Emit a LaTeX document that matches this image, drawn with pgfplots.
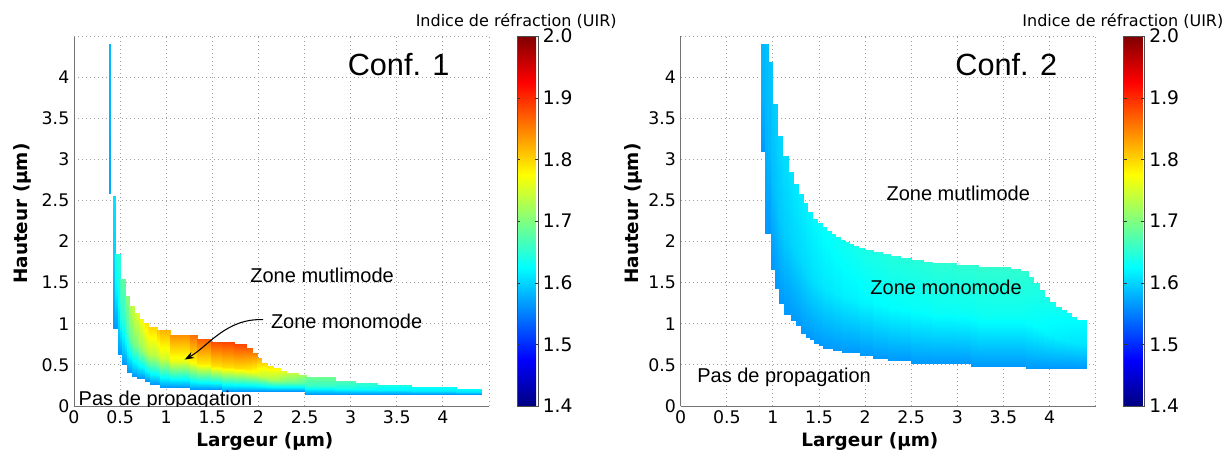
\documentclass[border=0pt]{standalone}
\usepackage{fontspec}
\setmainfont{DejaVu Sans}
\newfontfamily\arialfont{Liberation Sans}
\usepackage{pgfplots}
\usepackage{pgfplotstable}
\pgfplotsset{compat=1.18}
\usetikzlibrary{arrows.meta}

\pgfplotsset{
  /pgf/number format/assume math mode=true,
  mypanel/.style={
    scale only axis, width=311.25pt, height=277.5pt,
    xmin=0, xmax=4.5, ymin=0, ymax=4.5,
    axis x line*=bottom, axis y line*=left,
    axis line style={black!55, line width=0.75pt, -},
    xtick={0,0.5,1,1.5,2,2.5,3,3.5,4},
    ytick={0,0.5,1,1.5,2,2.5,3,3.5,4},
    extra x ticks={4.5}, extra y ticks={4.5},
    extra x tick labels={}, extra y tick labels={},
    grid=major,
    major grid style={gray!75, dash pattern=on 0.8pt off 2.2pt, line width=0.6pt},
    major tick length=0pt,
    tick label style={font=\fontsize{13}{15}\selectfont},
    label style={font=\bfseries\fontsize{13.8}{16}\selectfont},
    colormap/jet, point meta min=1.4, point meta max=2.0,
    colorbar,
    colorbar style={
      at={(parent axis.south east)}, anchor=south west,
      xshift=12.5pt, yshift=0pt,
      scale only axis, width=15.75pt, height=277.5pt,
      ytick={1.4,1.5,1.6,1.7,1.8,1.9,2.0},
      yticklabel style={font=\fontsize{14}{16}\selectfont,
        /pgf/number format/.cd, fixed, fixed zerofill, precision=1},
      axis line style={black!70},
      major tick length=2.5pt, tick align=inside,
      tick style={black!80},
      title={Indice de réfraction (UIR)},
      title style={font=\fontsize{12}{14}\selectfont, at={(0.5,1)}, anchor=base, xshift=-8.5pt, yshift=1.5pt},
    },
  },
  region/.style={surf, shader=interp, mesh/cols=3, point meta=explicit},
}

\begin{document}
% Conf. 1 : thin isolated column
\pgfplotstableread[row sep=\\]{
x y c\\
0.375 2.58 1.575\\ 0.375 3.49 1.58\\ 0.375 4.40 1.585\\
0.40 2.58 1.575\\ 0.40 3.49 1.58\\ 0.40 4.40 1.585\\
}\confonethin
% Conf. 1 : main monomode region (each column: left edge then right edge, bottom/mid/top)
\pgfplotstableread[row sep=\\]{
x y c\\
0.42 0.945 1.565\\ 0.42 1.748 1.597\\ 0.42 2.55 1.61\\ 0.445 0.945 1.565\\ 0.445 1.748 1.597\\ 0.445 2.55 1.61\\
0.445 0.945 1.565\\ 0.445 1.398 1.619\\ 0.445 1.85 1.64\\ 0.475 0.945 1.565\\ 0.475 1.398 1.619\\ 0.475 1.85 1.64\\
0.475 0.63 1.565\\ 0.475 1.24 1.626\\ 0.475 1.85 1.65\\ 0.50 0.63 1.565\\ 0.50 1.24 1.626\\ 0.50 1.85 1.65\\
0.50 0.63 1.565\\ 0.50 1.085 1.641\\ 0.50 1.54 1.67\\ 0.525 0.63 1.565\\ 0.525 1.085 1.641\\ 0.525 1.54 1.67\\
0.525 0.507 1.565\\ 0.525 1.024 1.648\\ 0.525 1.54 1.68\\ 0.55 0.507 1.565\\ 0.55 1.024 1.648\\ 0.55 1.54 1.68\\
0.55 0.507 1.565\\ 0.55 0.924 1.662\\ 0.55 1.34 1.70\\ 0.575 0.507 1.565\\ 0.575 0.924 1.662\\ 0.575 1.34 1.70\\
0.575 0.418 1.565\\ 0.575 0.879 1.669\\ 0.575 1.34 1.71\\ 0.60 0.418 1.565\\ 0.60 0.879 1.669\\ 0.60 1.34 1.71\\
0.60 0.418 1.565\\ 0.60 0.819 1.684\\ 0.60 1.22 1.73\\ 0.625 0.418 1.565\\ 0.625 0.819 1.684\\ 0.625 1.22 1.73\\
0.625 0.369 1.565\\ 0.625 0.795 1.691\\ 0.625 1.22 1.74\\ 0.65 0.369 1.565\\ 0.65 0.795 1.691\\ 0.65 1.22 1.74\\
0.65 0.369 1.565\\ 0.65 0.752 1.698\\ 0.65 1.135 1.75\\ 0.68 0.369 1.565\\ 0.68 0.752 1.698\\ 0.68 1.135 1.75\\
0.68 0.337 1.565\\ 0.68 0.736 1.705\\ 0.68 1.135 1.76\\ 0.705 0.337 1.565\\ 0.705 0.736 1.705\\ 0.705 1.135 1.76\\
0.705 0.337 1.565\\ 0.705 0.699 1.713\\ 0.705 1.06 1.77\\ 0.75 0.337 1.565\\ 0.75 0.699 1.713\\ 0.75 1.06 1.77\\
0.75 0.337 1.565\\ 0.75 0.671 1.720\\ 0.75 1.005 1.78\\ 0.77 0.337 1.565\\ 0.77 0.671 1.720\\ 0.77 1.005 1.78\\
0.77 0.308 1.565\\ 0.77 0.657 1.727\\ 0.77 1.005 1.79\\ 0.80 0.308 1.565\\ 0.80 0.657 1.727\\ 0.80 1.005 1.79\\
0.80 0.308 1.565\\ 0.80 0.637 1.731\\ 0.80 0.965 1.795\\ 0.825 0.308 1.565\\ 0.825 0.637 1.731\\ 0.825 0.965 1.795\\
0.825 0.268 1.565\\ 0.825 0.617 1.734\\ 0.825 0.965 1.80\\ 0.90 0.268 1.565\\ 0.90 0.617 1.734\\ 0.90 0.965 1.80\\
0.90 0.268 1.565\\ 0.90 0.597 1.741\\ 0.90 0.925 1.81\\ 0.93 0.268 1.565\\ 0.93 0.597 1.741\\ 0.93 0.925 1.81\\
0.93 0.235 1.565\\ 0.93 0.58 1.749\\ 0.93 0.925 1.82\\ 1.04 0.235 1.565\\ 1.04 0.58 1.749\\ 1.04 0.925 1.82\\
1.04 0.235 1.565\\ 1.04 0.55 1.763\\ 1.04 0.864 1.84\\ 1.26 0.235 1.565\\ 1.26 0.55 1.763\\ 1.26 0.864 1.84\\
1.26 0.203 1.565\\ 1.26 0.534 1.777\\ 1.26 0.864 1.86\\ 1.33 0.203 1.565\\ 1.33 0.534 1.777\\ 1.33 0.864 1.86\\
1.33 0.203 1.565\\ 1.33 0.507 1.785\\ 1.33 0.81 1.87\\ 1.49 0.203 1.565\\ 1.49 0.507 1.785\\ 1.49 0.81 1.87\\
1.49 0.203 1.565\\ 1.49 0.492 1.792\\ 1.49 0.78 1.88\\ 1.60 0.203 1.565\\ 1.60 0.492 1.792\\ 1.60 0.78 1.88\\
1.60 0.178 1.565\\ 1.60 0.479 1.795\\ 1.60 0.78 1.885\\ 1.73 0.178 1.565\\ 1.73 0.479 1.795\\ 1.73 0.78 1.885\\
1.73 0.178 1.565\\ 1.73 0.467 1.795\\ 1.73 0.755 1.885\\ 1.87 0.178 1.565\\ 1.87 0.467 1.795\\ 1.87 0.755 1.885\\
1.87 0.178 1.565\\ 1.87 0.439 1.785\\ 1.87 0.70 1.87\\ 1.93 0.178 1.565\\ 1.93 0.439 1.785\\ 1.93 0.70 1.87\\
1.93 0.178 1.565\\ 1.93 0.409 1.770\\ 1.93 0.64 1.85\\ 1.98 0.178 1.565\\ 1.98 0.409 1.770\\ 1.98 0.64 1.85\\
1.98 0.178 1.565\\ 1.98 0.379 1.749\\ 1.98 0.58 1.82\\ 2.03 0.178 1.565\\ 2.03 0.379 1.749\\ 2.03 0.58 1.82\\
2.03 0.178 1.565\\ 2.03 0.353 1.734\\ 2.03 0.527 1.80\\ 2.09 0.178 1.565\\ 2.09 0.353 1.734\\ 2.09 0.527 1.80\\
2.09 0.178 1.565\\ 2.09 0.333 1.727\\ 2.09 0.487 1.79\\ 2.16 0.178 1.565\\ 2.16 0.333 1.727\\ 2.16 0.487 1.79\\
2.16 0.178 1.565\\ 2.16 0.318 1.720\\ 2.16 0.458 1.78\\ 2.23 0.178 1.565\\ 2.23 0.318 1.720\\ 2.23 0.458 1.78\\
2.23 0.178 1.565\\ 2.23 0.304 1.705\\ 2.23 0.43 1.76\\ 2.30 0.178 1.565\\ 2.30 0.304 1.705\\ 2.30 0.43 1.76\\
2.30 0.178 1.565\\ 2.30 0.292 1.691\\ 2.30 0.405 1.74\\ 2.43 0.178 1.565\\ 2.43 0.292 1.691\\ 2.43 0.405 1.74\\
2.43 0.178 1.565\\ 2.43 0.278 1.677\\ 2.43 0.377 1.72\\ 2.50 0.178 1.565\\ 2.50 0.278 1.677\\ 2.50 0.377 1.72\\
2.50 0.14 1.565\\ 2.50 0.259 1.669\\ 2.50 0.377 1.71\\ 2.52 0.14 1.565\\ 2.52 0.259 1.669\\ 2.52 0.377 1.71\\
2.52 0.14 1.565\\ 2.52 0.245 1.655\\ 2.52 0.349 1.69\\ 2.83 0.14 1.565\\ 2.83 0.245 1.655\\ 2.83 0.349 1.69\\
2.83 0.14 1.565\\ 2.83 0.224 1.641\\ 2.83 0.308 1.67\\ 3.05 0.14 1.565\\ 3.05 0.224 1.641\\ 3.05 0.308 1.67\\
3.05 0.14 1.565\\ 3.05 0.212 1.630\\ 3.05 0.284 1.655\\ 3.29 0.14 1.565\\ 3.29 0.212 1.630\\ 3.29 0.284 1.655\\
3.29 0.14 1.565\\ 3.29 0.196 1.619\\ 3.29 0.251 1.64\\ 3.65 0.14 1.565\\ 3.65 0.196 1.619\\ 3.65 0.251 1.64\\
3.65 0.14 1.565\\ 3.65 0.184 1.612\\ 3.65 0.227 1.63\\ 4.14 0.14 1.565\\ 4.14 0.184 1.612\\ 4.14 0.227 1.63\\
4.14 0.14 1.565\\ 4.14 0.172 1.608\\ 4.14 0.203 1.625\\ 4.42 0.14 1.565\\ 4.42 0.172 1.608\\ 4.42 0.203 1.625\\
}\confonebody
% Conf. 2 : monomode region
\pgfplotstableread[row sep=\\]{
x y c\\
0.867 3.105 1.565\\ 0.867 3.753 1.580\\ 0.867 4.40 1.585\\ 0.917 3.105 1.565\\ 0.917 3.753 1.580\\ 0.917 4.40 1.585\\
0.917 2.11 1.565\\ 0.917 3.255 1.582\\ 0.917 4.40 1.588\\ 0.943 2.11 1.565\\ 0.943 3.255 1.582\\ 0.943 4.40 1.588\\
0.943 2.11 1.565\\ 0.943 3.15 1.584\\ 0.943 4.19 1.59\\ 0.975 2.11 1.565\\ 0.975 3.15 1.584\\ 0.975 4.19 1.59\\
0.975 1.667 1.565\\ 0.975 2.929 1.586\\ 0.975 4.19 1.593\\ 0.993 1.667 1.565\\ 0.993 2.929 1.586\\ 0.993 4.19 1.593\\
0.993 1.667 1.565\\ 0.993 2.669 1.5875\\ 0.993 3.67 1.595\\ 1.02 1.667 1.565\\ 1.02 2.669 1.5875\\ 1.02 3.67 1.595\\
1.02 1.43 1.565\\ 1.02 2.55 1.590\\ 1.02 3.67 1.598\\ 1.04 1.43 1.565\\ 1.04 2.55 1.590\\ 1.04 3.67 1.598\\
1.04 1.43 1.565\\ 1.04 2.358 1.591\\ 1.04 3.285 1.60\\ 1.07 1.43 1.565\\ 1.07 2.358 1.591\\ 1.07 3.285 1.60\\
1.07 1.25 1.565\\ 1.07 2.268 1.593\\ 1.07 3.285 1.602\\ 1.094 1.25 1.565\\ 1.094 2.268 1.593\\ 1.094 3.285 1.602\\
1.094 1.25 1.565\\ 1.094 2.148 1.594\\ 1.094 3.045 1.604\\ 1.12 1.25 1.565\\ 1.12 2.148 1.594\\ 1.12 3.045 1.604\\
1.12 1.12 1.565\\ 1.12 2.083 1.596\\ 1.12 3.045 1.606\\ 1.166 1.12 1.565\\ 1.166 2.083 1.596\\ 1.166 3.045 1.606\\
1.166 1.12 1.565\\ 1.166 1.982 1.597\\ 1.166 2.843 1.608\\ 1.195 1.12 1.565\\ 1.195 1.982 1.597\\ 1.195 2.843 1.608\\
1.195 1.05 1.565\\ 1.195 1.947 1.599\\ 1.195 2.843 1.61\\ 1.22 1.05 1.565\\ 1.22 1.947 1.599\\ 1.22 2.843 1.61\\
1.22 1.05 1.565\\ 1.22 1.874 1.600\\ 1.22 2.697 1.612\\ 1.246 1.05 1.565\\ 1.246 1.874 1.600\\ 1.246 2.697 1.612\\
1.246 0.985 1.565\\ 1.246 1.841 1.601\\ 1.246 2.697 1.613\\ 1.268 0.985 1.565\\ 1.268 1.841 1.601\\ 1.268 2.697 1.613\\
1.268 0.985 1.565\\ 1.268 1.783 1.602\\ 1.268 2.58 1.614\\ 1.30 0.985 1.565\\ 1.30 1.783 1.602\\ 1.30 2.58 1.614\\
1.30 0.892 1.565\\ 1.30 1.736 1.6025\\ 1.30 2.58 1.615\\ 1.322 0.892 1.565\\ 1.322 1.736 1.6025\\ 1.322 2.58 1.615\\
1.322 0.892 1.565\\ 1.322 1.679 1.603\\ 1.322 2.465 1.616\\ 1.354 0.892 1.565\\ 1.354 1.679 1.603\\ 1.354 2.465 1.616\\
1.354 0.843 1.565\\ 1.354 1.654 1.604\\ 1.354 2.465 1.617\\ 1.372 0.843 1.565\\ 1.372 1.654 1.604\\ 1.372 2.465 1.617\\
1.372 0.843 1.565\\ 1.372 1.604 1.605\\ 1.372 2.364 1.618\\ 1.40 0.843 1.565\\ 1.40 1.604 1.605\\ 1.40 2.364 1.618\\
1.40 0.81 1.565\\ 1.40 1.587 1.606\\ 1.40 2.364 1.62\\ 1.427 0.81 1.565\\ 1.427 1.587 1.606\\ 1.427 2.364 1.62\\
1.427 0.81 1.565\\ 1.427 1.543 1.607\\ 1.427 2.275 1.621\\ 1.448 0.81 1.565\\ 1.448 1.543 1.607\\ 1.448 2.275 1.621\\
1.448 0.762 1.565\\ 1.448 1.519 1.608\\ 1.448 2.275 1.622\\ 1.473 0.762 1.565\\ 1.473 1.519 1.608\\ 1.473 2.275 1.622\\
1.473 0.762 1.565\\ 1.473 1.492 1.6085\\ 1.473 2.222 1.623\\ 1.499 0.762 1.565\\ 1.499 1.492 1.6085\\ 1.499 2.222 1.623\\
1.499 0.738 1.565\\ 1.499 1.48 1.610\\ 1.499 2.222 1.625\\ 1.528 0.738 1.565\\ 1.528 1.48 1.610\\ 1.528 2.222 1.625\\
1.528 0.738 1.565\\ 1.528 1.456 1.611\\ 1.528 2.174 1.626\\ 1.546 0.738 1.565\\ 1.546 1.456 1.611\\ 1.546 2.174 1.626\\
1.546 0.70 1.565\\ 1.546 1.437 1.6115\\ 1.546 2.174 1.627\\ 1.575 0.70 1.565\\ 1.575 1.437 1.6115\\ 1.575 2.174 1.627\\
1.575 0.70 1.565\\ 1.575 1.415 1.612\\ 1.575 2.129 1.628\\ 1.625 0.70 1.565\\ 1.625 1.415 1.612\\ 1.625 2.129 1.628\\
1.625 0.70 1.565\\ 1.625 1.394 1.613\\ 1.625 2.088 1.629\\ 1.654 0.70 1.565\\ 1.654 1.394 1.613\\ 1.654 2.088 1.629\\
1.654 0.68 1.565\\ 1.654 1.384 1.614\\ 1.654 2.088 1.63\\ 1.672 0.68 1.565\\ 1.672 1.384 1.614\\ 1.672 2.088 1.63\\
1.672 0.68 1.565\\ 1.672 1.366 1.6145\\ 1.672 2.052 1.631\\ 1.726 0.68 1.565\\ 1.726 1.366 1.6145\\ 1.726 2.052 1.631\\
1.726 0.68 1.565\\ 1.726 1.35 1.615\\ 1.726 2.019 1.632\\ 1.75 0.68 1.565\\ 1.75 1.35 1.615\\ 1.75 2.019 1.632\\
1.75 0.653 1.565\\ 1.75 1.336 1.616\\ 1.75 2.019 1.633\\ 1.77 0.653 1.565\\ 1.77 1.336 1.616\\ 1.77 2.019 1.633\\
1.77 0.653 1.565\\ 1.77 1.324 1.617\\ 1.77 1.995 1.634\\ 1.827 0.653 1.565\\ 1.827 1.324 1.617\\ 1.827 1.995 1.634\\
1.827 0.653 1.565\\ 1.827 1.312 1.6175\\ 1.827 1.97 1.635\\ 1.87 0.653 1.565\\ 1.87 1.312 1.6175\\ 1.87 1.97 1.635\\
1.87 0.653 1.565\\ 1.87 1.30 1.618\\ 1.87 1.946 1.636\\ 1.925 0.653 1.565\\ 1.925 1.30 1.618\\ 1.925 1.946 1.636\\
1.925 0.653 1.565\\ 1.925 1.286 1.619\\ 1.925 1.918 1.637\\ 1.94 0.653 1.565\\ 1.94 1.286 1.619\\ 1.94 1.918 1.637\\
1.94 0.62 1.565\\ 1.94 1.269 1.620\\ 1.94 1.918 1.638\\ 1.986 0.62 1.565\\ 1.986 1.269 1.620\\ 1.986 1.918 1.638\\
1.986 0.62 1.565\\ 1.986 1.26 1.621\\ 1.986 1.90 1.64\\ 2.087 0.62 1.565\\ 2.087 1.26 1.621\\ 2.087 1.90 1.64\\
2.087 0.588 1.565\\ 2.087 1.233 1.623\\ 2.087 1.877 1.642\\ 2.178 0.588 1.565\\ 2.178 1.233 1.623\\ 2.178 1.877 1.642\\
2.178 0.588 1.565\\ 2.178 1.219 1.6235\\ 2.178 1.849 1.643\\ 2.25 0.588 1.565\\ 2.25 1.219 1.6235\\ 2.25 1.849 1.643\\
2.25 0.56 1.565\\ 2.25 1.205 1.624\\ 2.25 1.849 1.644\\ 2.268 0.56 1.565\\ 2.268 1.205 1.624\\ 2.268 1.849 1.644\\
2.268 0.56 1.565\\ 2.268 1.193 1.625\\ 2.268 1.825 1.645\\ 2.376 0.56 1.565\\ 2.376 1.193 1.625\\ 2.376 1.825 1.645\\
2.376 0.56 1.565\\ 2.376 1.178 1.626\\ 2.376 1.796 1.646\\ 2.50 0.56 1.565\\ 2.50 1.178 1.626\\ 2.50 1.796 1.646\\
2.50 0.527 1.565\\ 2.50 1.152 1.6265\\ 2.50 1.776 1.647\\ 2.63 0.527 1.565\\ 2.63 1.152 1.6265\\ 2.63 1.776 1.647\\
2.63 0.527 1.565\\ 2.63 1.142 1.627\\ 2.63 1.756 1.648\\ 2.72 0.527 1.565\\ 2.72 1.142 1.627\\ 2.72 1.756 1.648\\
2.72 0.527 1.565\\ 2.72 1.132 1.629\\ 2.72 1.736 1.65\\ 2.99 0.527 1.565\\ 2.99 1.132 1.629\\ 2.99 1.736 1.65\\
2.99 0.527 1.565\\ 2.99 1.121 1.6295\\ 2.99 1.715 1.651\\ 3.153 0.527 1.565\\ 3.153 1.121 1.6295\\ 3.153 1.715 1.651\\
3.153 0.487 1.565\\ 3.153 1.101 1.630\\ 3.153 1.715 1.652\\ 3.225 0.487 1.565\\ 3.225 1.101 1.630\\ 3.225 1.715 1.652\\
3.225 0.487 1.565\\ 3.225 1.087 1.631\\ 3.225 1.687 1.653\\ 3.568 0.487 1.565\\ 3.568 1.087 1.631\\ 3.568 1.687 1.653\\
3.568 0.487 1.565\\ 3.568 1.077 1.631\\ 3.568 1.667 1.653\\ 3.676 0.487 1.565\\ 3.676 1.077 1.631\\ 3.676 1.667 1.653\\
3.676 0.487 1.565\\ 3.676 1.065 1.630\\ 3.676 1.642 1.652\\ 3.749 0.487 1.565\\ 3.749 1.065 1.630\\ 3.749 1.642 1.652\\
3.749 0.458 1.565\\ 3.749 1.05 1.6295\\ 3.749 1.642 1.651\\ 3.767 0.458 1.565\\ 3.767 1.05 1.6295\\ 3.767 1.642 1.651\\
3.767 0.458 1.565\\ 3.767 1.016 1.627\\ 3.767 1.573 1.648\\ 3.82 0.458 1.565\\ 3.82 1.016 1.627\\ 3.82 1.573 1.648\\
3.82 0.458 1.565\\ 3.82 0.975 1.625\\ 3.82 1.492 1.645\\ 3.882 0.458 1.565\\ 3.882 0.975 1.625\\ 3.882 1.492 1.645\\
3.882 0.458 1.565\\ 3.882 0.935 1.623\\ 3.882 1.411 1.642\\ 3.936 0.458 1.565\\ 3.936 0.935 1.623\\ 3.936 1.411 1.642\\
3.936 0.458 1.565\\ 3.936 0.894 1.6205\\ 3.936 1.33 1.639\\ 3.994 0.458 1.565\\ 3.994 0.894 1.6205\\ 3.994 1.33 1.639\\
3.994 0.458 1.565\\ 3.994 0.864 1.618\\ 3.994 1.27 1.636\\ 4.056 0.458 1.565\\ 4.056 0.864 1.618\\ 4.056 1.27 1.636\\
4.056 0.458 1.565\\ 4.056 0.833 1.616\\ 4.056 1.208 1.633\\ 4.128 0.458 1.565\\ 4.128 0.833 1.616\\ 4.128 1.208 1.633\\
4.128 0.458 1.565\\ 4.128 0.813 1.6145\\ 4.128 1.168 1.631\\ 4.182 0.458 1.565\\ 4.182 0.813 1.6145\\ 4.182 1.168 1.631\\
4.182 0.458 1.565\\ 4.182 0.793 1.613\\ 4.182 1.127 1.629\\ 4.236 0.458 1.565\\ 4.236 0.793 1.613\\ 4.236 1.127 1.629\\
4.236 0.458 1.565\\ 4.236 0.773 1.6115\\ 4.236 1.087 1.627\\ 4.29 0.458 1.565\\ 4.29 0.773 1.6115\\ 4.29 1.087 1.627\\
4.29 0.458 1.565\\ 4.29 0.752 1.610\\ 4.29 1.046 1.625\\ 4.40 0.458 1.565\\ 4.40 0.752 1.610\\ 4.40 1.046 1.625\\
}\conftwobody
\begin{tikzpicture}
\useasboundingbox (0,0) rectangle (918pt,338.25pt);
% ---------------- Panel a) ----------------
\begin{axis}[mypanel, at={(55.5pt,33.75pt)}, anchor=south west,
  xlabel={Largeur (µm)}, ylabel={Hauteur (µm)},
  xlabel style={at={(axis description cs:0.46,-0.0965)}, anchor=center},
  ylabel style={at={(axis description cs:-0.125,0.52)}, anchor=center},
]
\addplot[region] table[x=x, y=y, meta=c] {\confonethin};
\addplot[region] table[x=x, y=y, meta=c] {\confonebody};
\node[font=\arialfont\fontsize{23}{26}\selectfont] at (axis cs:3.52,4.15) {Conf. 1};
\node[font=\arialfont\fontsize{15}{18}\selectfont] at (axis cs:2.69,1.585) {Zone mutlimode};
\node[font=\arialfont\fontsize{15}{18}\selectfont] at (axis cs:2.956,1.026) {Zone monomode};
\node[font=\arialfont\fontsize{15}{18}\selectfont, anchor=west] at (axis cs:0.0,0.073) {Pas de propagation};
\draw[-{Stealth[length=7pt,width=5pt]}, line width=0.8pt] (axis cs:2.05,1.05) .. controls (axis cs:1.65,1.07) and (axis cs:1.45,0.72) .. (axis cs:1.20,0.565);
\node[font=\fontsize{13.5}{16}\selectfont] at (axis description cs:-0.0795,-0.0568) {a)};
\end{axis}
% ---------------- Panel b) ----------------
\begin{axis}[mypanel, at={(510.5pt,33.75pt)}, anchor=south west,
  xlabel={Largeur (µm)}, ylabel={Hauteur (µm)},
  xlabel style={at={(axis description cs:0.456,-0.0965)}, anchor=center},
  ylabel style={at={(axis description cs:-0.115,0.52)}, anchor=center},
]
\addplot[region] table[x=x, y=y, meta=c] {\conftwobody};
\node[font=\arialfont\fontsize{23}{26}\selectfont] at (axis cs:3.53,4.15) {Conf. 2};
\node[font=\arialfont\fontsize{15}{18}\selectfont] at (axis cs:3.01,2.587) {Zone mutlimode};
\node[font=\arialfont\fontsize{15}{18}\selectfont] at (axis cs:2.878,1.444) {Zone monomode};
\node[font=\arialfont\fontsize{15}{18}\selectfont] at (axis cs:1.121,0.345) {Pas de propagation};
\node[font=\fontsize{13.5}{16}\selectfont] at (axis description cs:-0.069,-0.0568) {b)};
\end{axis}
\end{tikzpicture}
\end{document}
